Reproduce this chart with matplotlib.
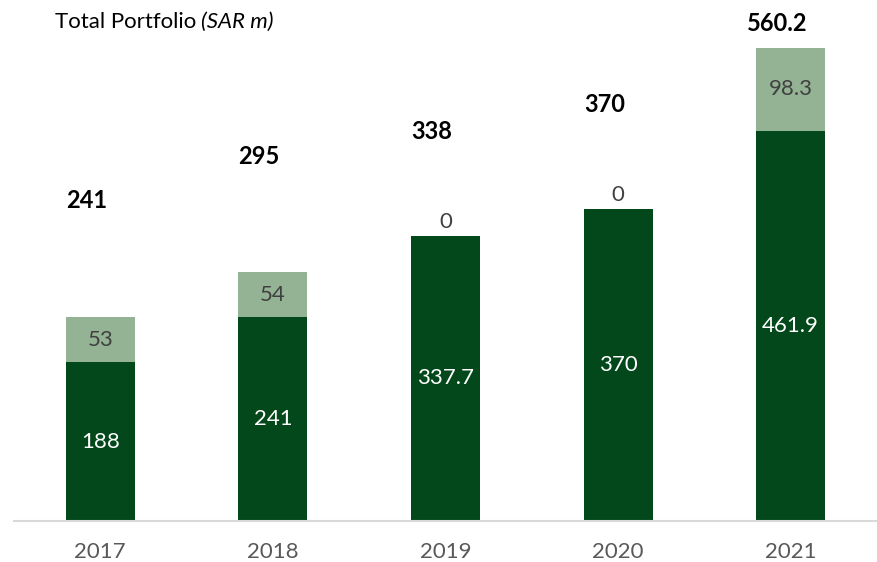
import matplotlib.pyplot as plt
import numpy as np

years = ['2017', '2018', '2019', '2020', '2021']
core = [188, 241, 337.7, 370, 461.9]
other = [53, 54, 0, 0, 98.3]
totals = ['241', '295', '338', '370', '560.2']
total_label_y = [379, 432, 461, 493, 589]

dark_green = '#03481a'
light_green = '#94b294'

plt.rcParams['font.family'] = ['Lato', 'DejaVu Sans']

fig = plt.figure(figsize=(8.77, 5.62), dpi=100)
ax = fig.add_axes([14 / 877, 41 / 562, 1 - 14 / 877, 521 / 562])

x = np.arange(len(years))
width = 0.4
ax.bar(x, core, width, color=dark_green, zorder=2)
ax.bar(x, other, width, bottom=core, color=light_green, zorder=2)

for i in range(len(years)):
    ax.text(x[i], core[i] / 2, f'{core[i]:g}', ha='center', va='center',
            color='white', fontsize=16)
    if other[i] > 0:
        ax.text(x[i], core[i] + other[i] / 2, f'{other[i]:g}', ha='center',
                va='center', color='#404040', fontsize=16)
    else:
        ax.text(x[i], core[i] + 4, '0', ha='center', va='bottom',
                color='#404040', fontsize=16)
    ax.text(x[i] - 0.08, total_label_y[i], totals[i], ha='center',
            va='center', fontsize=17, fontweight='bold', color='black')

ax.set_xlim(-0.5, 4.5)
ax.set_ylim(0, 617)
ax.set_xticks(x)
ax.set_xticklabels(years, fontsize=16, color='#595959')
ax.tick_params(axis='x', length=0, pad=15)
ax.set_yticks([])
for side in ['top', 'right', 'left']:
    ax.spines[side].set_visible(False)
ax.spines['bottom'].set_color('#d9d9d9')
ax.spines['bottom'].set_linewidth(1.5)

# title: plain part followed by italic units
t1 = fig.text(55 / 877, 1 - 22 / 562, 'Total Portfolio', fontsize=16,
              va='center', ha='left')
fig.canvas.draw()
bb = t1.get_window_extent()
fig.text((bb.x1 + 5) / 877, 1 - 22 / 562, '(SAR m)', fontsize=16,
         style='italic', va='center', ha='left')

fig.savefig('out.png', dpi=100)
